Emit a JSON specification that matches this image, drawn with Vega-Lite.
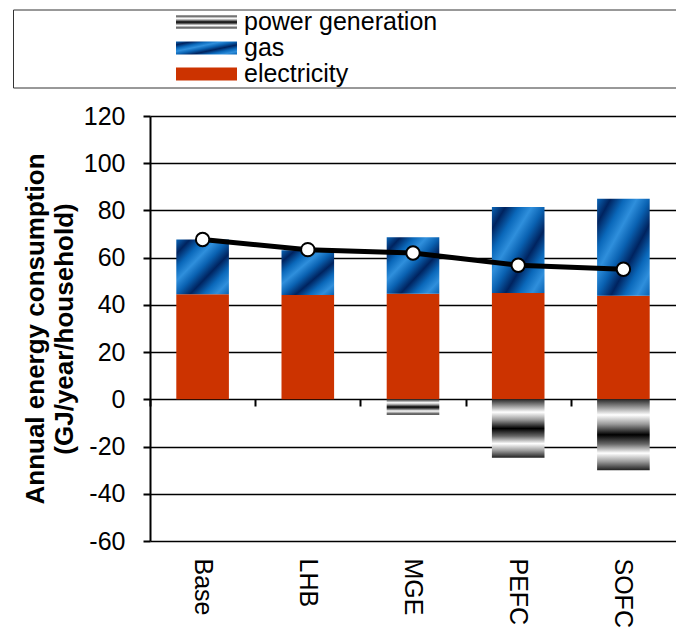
{
  "$schema": "https://vega.github.io/schema/vega-lite/v6.json",
  "width": 526,
  "height": 425,
  "autosize": {"type": "none"},
  "padding": {"left": 150, "top": 116, "right": 0, "bottom": 94},
  "background": "white",
  "params": [
    {"name": "gPow", "expr": "{gradient: 'linear', x1: 0, y1: 0, x2: 0, y2: 1, stops: [{offset: 0, color: '#2a2a2a'}, {offset: 0.1, color: '#8a8a8a'}, {offset: 0.22, color: '#ffffff'}, {offset: 0.35, color: '#9a9a9a'}, {offset: 0.5, color: '#000000'}, {offset: 0.63, color: '#666666'}, {offset: 0.76, color: '#ffffff'}, {offset: 0.88, color: '#9a9a9a'}, {offset: 1, color: '#222222'}]}"},
    {"name": "gGas", "expr": "{gradient: 'linear', x1: 0, y1: 0, x2: 1, y2: 1, stops: [{offset: 0, color: '#0a66b8'}, {offset: 0.13, color: '#00235f'}, {offset: 0.26, color: '#0a68ba'}, {offset: 0.38, color: '#2f8fdc'}, {offset: 0.5, color: '#0a62b2'}, {offset: 0.63, color: '#00235f'}, {offset: 0.76, color: '#0a68ba'}, {offset: 0.88, color: '#2f8fdc'}, {offset: 1, color: '#0a62b2'}]}"}
  ],
  "config": {
    "font": "Liberation Sans",
    "view": {"stroke": null},
    "axis": {"labelColor": "#000", "titleColor": "#000"},
    "legend": {"labelColor": "#000"}
  },
  "datasets": {
    "energy": [
      {"scenario": "Base", "type": "electricity", "value": 44.5},
      {"scenario": "Base", "type": "gas", "value": 23.2},
      {"scenario": "LHB", "type": "electricity", "value": 44.2},
      {"scenario": "LHB", "type": "gas", "value": 18.9},
      {"scenario": "MGE", "type": "electricity", "value": 44.7},
      {"scenario": "MGE", "type": "gas", "value": 23.9},
      {"scenario": "MGE", "type": "power generation", "value": -6.5},
      {"scenario": "PEFC", "type": "electricity", "value": 45.0},
      {"scenario": "PEFC", "type": "gas", "value": 36.5},
      {"scenario": "PEFC", "type": "power generation", "value": -24.7},
      {"scenario": "SOFC", "type": "electricity", "value": 43.9},
      {"scenario": "SOFC", "type": "gas", "value": 41.1},
      {"scenario": "SOFC", "type": "power generation", "value": -30.0}
    ],
    "total": [
      {"scenario": "Base", "total": 67.7},
      {"scenario": "LHB", "total": 63.4},
      {"scenario": "MGE", "total": 62.0},
      {"scenario": "PEFC", "total": 56.8},
      {"scenario": "SOFC", "total": 55.1}
    ]
  },
  "resolve": {"axis": {"x": "independent"}},
  "layer": [
    {
      "data": {"name": "energy"},
      "mark": {"type": "bar", "fillOpacity": 1},
      "encoding": {
        "x": {
          "field": "scenario", "type": "nominal",
          "sort": ["Base", "LHB", "MGE", "PEFC", "SOFC"],
          "scale": {"paddingInner": 0.5, "paddingOuter": 0.25},
          "axis": {
            "orient": "bottom", "title": null, "domain": false, "ticks": false, "grid": false,
            "labelAngle": 90, "labelFontSize": 25, "labelPadding": 17
          }
        },
        "y": {
          "field": "value", "type": "quantitative", "stack": "zero",
          "scale": {"domain": [-60, 120], "nice": false},
          "axis": {
            "title": ["Annual energy consumption", "(GJ/year/household)"],
            "titleFontSize": 26, "titleFontWeight": "bold", "titleLineHeight": 29, "titlePadding": 6,
            "labelFontSize": 25, "labelPadding": 18, "labelExpr": "'' + datum.value",
            "values": [-60, -40, -20, 0, 20, 40, 60, 80, 100, 120],
            "tickSize": 7, "tickWidth": 2, "tickColor": "#000",
            "domainColor": "#000", "domainWidth": 2,
            "grid": true, "gridColor": "#000", "gridWidth": 1.5
          }
        },
        "color": {
          "field": "type", "type": "nominal",
          "scale": {
            "domain": ["power generation", "gas", "electricity"],
            "range": [{"expr": "gPow"}, {"expr": "gGas"}, "#cc3300"]
          },
          "legend": {
            "orient": "none", "legendX": -137, "legendY": -106.5,
            "title": "\u200b\u00a0\u00a0\u00a0\u00a0\u00a0\u00a0\u00a0\u00a0\u00a0\u00a0\u00a0\u00a0\u00a0\u00a0\u00a0\u00a0\u00a0\u00a0\u00a0\u00a0\u00a0\u00a0\u00a0\u200b",
            "titleOrient": "left", "titleFontSize": 25, "titlePadding": 3,
            "symbolType": "M-2.44,-0.52H2.44V0.52H-2.44Z", "symbolSize": 625, "symbolStrokeWidth": 0, "symbolOpacity": 1,
            "symbolOffset": 18,
            "labelFontSize": 25, "labelOffset": 25, "labelLimit": 2000,
            "labelExpr": "pad(datum.label, 51, '\u00a0', 'right') + '\u200b'",
            "rowPadding": 0, "padding": 0, "strokeColor": "#333"
          }
        },
        "order": {"field": "type", "sort": "ascending"}
      }
    },
    {
      "data": {"name": "total"},
      "mark": {"type": "line", "color": "#000", "strokeWidth": 5},
      "encoding": {
        "x": {
          "field": "scenario", "type": "nominal",
          "sort": ["Base", "LHB", "MGE", "PEFC", "SOFC"],
          "axis": {
            "orient": "bottom", "offset": -142, "title": null, "labels": false, "domain": false, "grid": false,
            "ticks": true, "tickSize": 7, "tickWidth": 2, "tickColor": "#000", "bandPosition": 0, "tickOffset": -26.3
          }
        },
        "y": {"field": "total", "type": "quantitative"}
      }
    },
    {
      "data": {"name": "total"},
      "mark": {"type": "point", "shape": "circle", "filled": true, "fill": "#ffffff", "stroke": "#000", "strokeWidth": 2, "size": 180, "opacity": 1},
      "encoding": {
        "x": {"field": "scenario", "type": "nominal", "sort": ["Base", "LHB", "MGE", "PEFC", "SOFC"], "axis": null},
        "y": {"field": "total", "type": "quantitative"}
      }
    }
  ]
}
